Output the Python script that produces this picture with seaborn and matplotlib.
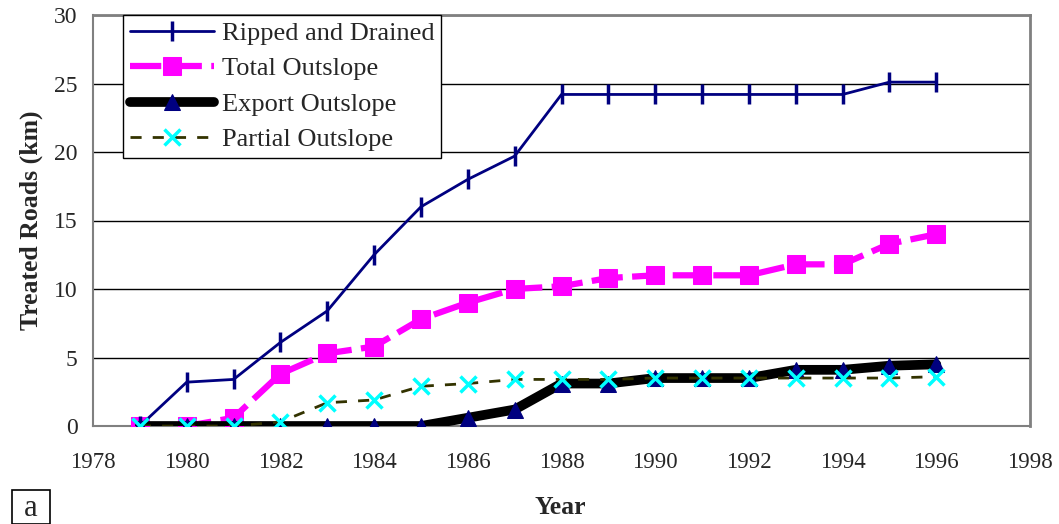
import matplotlib
matplotlib.use("Agg")
import matplotlib.pyplot as plt
import seaborn as sns
from matplotlib.patches import Rectangle

years = list(range(1979, 1997))
ripped = [0, 3.2, 3.4, 6.1, 8.4, 12.5, 16.0, 18.0, 19.7, 24.2, 24.2, 24.2, 24.2, 24.2, 24.2, 24.2, 25.1, 25.1]
total = [0, 0, 0.6, 3.8, 5.3, 5.8, 7.8, 9.0, 10.0, 10.2, 10.8, 11.0, 11.0, 11.0, 11.8, 11.8, 13.3, 14.0]
export = [0, 0, 0, 0, 0, 0, 0, 0.6, 1.2, 3.1, 3.1, 3.5, 3.5, 3.5, 4.1, 4.1, 4.4, 4.5]
partial = [0, 0, 0, 0.3, 1.7, 1.9, 2.9, 3.1, 3.4, 3.4, 3.4, 3.5, 3.5, 3.5, 3.5, 3.5, 3.5, 3.6]
labels = ["Ripped and Drained", "Total Outslope", "Export Outslope", "Partial Outslope"]

sns.set_style("white")
plt.rcParams['font.family'] = ['Liberation Serif', 'DejaVu Serif']

fig = plt.figure(figsize=(10.59, 5.24), dpi=100)
ax = fig.add_axes([93/1059, 1 - 426/524, (1030 - 93)/1059, (426 - 15)/524])

sns.lineplot(x=years, y=ripped, ax=ax, color="#000080", lw=2, marker="|",
             markersize=14, markeredgewidth=2.5, markeredgecolor="#000080", label=labels[0], zorder=4)
sns.lineplot(x=years, y=total, ax=ax, color="#ff00ff", lw=4.5, marker="s",
             markersize=13, markeredgecolor="#ff00ff", markerfacecolor="#ff00ff",
             label=labels[1], zorder=3, dashes=(5, 1.5))
sns.lineplot(x=years, y=export, ax=ax, color="black", lw=7, marker="^",
             markersize=11, markerfacecolor="#000080", markeredgecolor="#000080",
             label=labels[2], zorder=5)
sns.lineplot(x=years, y=partial, ax=ax, color="#333300", lw=2, marker="x",
             markersize=12, markeredgewidth=2.5, markeredgecolor="#00ffff",
             label=labels[3], zorder=6, dashes=(4, 4))

ax.set_xlim(1978, 1998)
ax.set_ylim(0, 30)
ax.set_xticks(range(1978, 1999, 2))
ax.set_yticks(range(0, 31, 5))
ax.yaxis.grid(True, color="black", lw=1)
ax.xaxis.grid(False)
for s in ["top", "right"]:
    ax.spines[s].set_color("#808080")
    ax.spines[s].set_linewidth(2)
ax.spines["left"].set_color("#808080")
ax.spines["left"].set_linewidth(1.5)
ax.spines["bottom"].set_color("#808080")
ax.spines["bottom"].set_linewidth(1.5)
ax.tick_params(axis="x", direction="out", length=7, width=1, color="black",
               labelsize=16.5, pad=12)
ax.tick_params(axis="y", direction="out", length=7, width=1, color="black",
               labelsize=17, pad=4)
ax.set_xlabel("")
ax.set_ylabel("Treated Roads (km)", fontsize=18.5, fontweight="bold", labelpad=8)
fig.text(560/1059, 1 - 508/524, "Year", fontsize=18.5, fontweight="bold", ha="center", va="center")

leg = ax.legend(loc="upper left", bbox_to_anchor=((123 - 93)/937, 1.0), fontsize=19,
                frameon=True, fancybox=False, edgecolor="black", framealpha=1,
                handlelength=3.2, borderpad=0.25, labelspacing=0.45, handletextpad=0.3,
                borderaxespad=0)
leg.get_frame().set_linewidth(1)

fig.patches.append(Rectangle((12/1059, 0), 38/1059, 34/524, transform=fig.transFigure,
                             fill=False, edgecolor="black", lw=1.2))
fig.text(31/1059, 1/524, "a", fontsize=22, ha="center", va="bottom")

fig.savefig("out.png", dpi=100)
